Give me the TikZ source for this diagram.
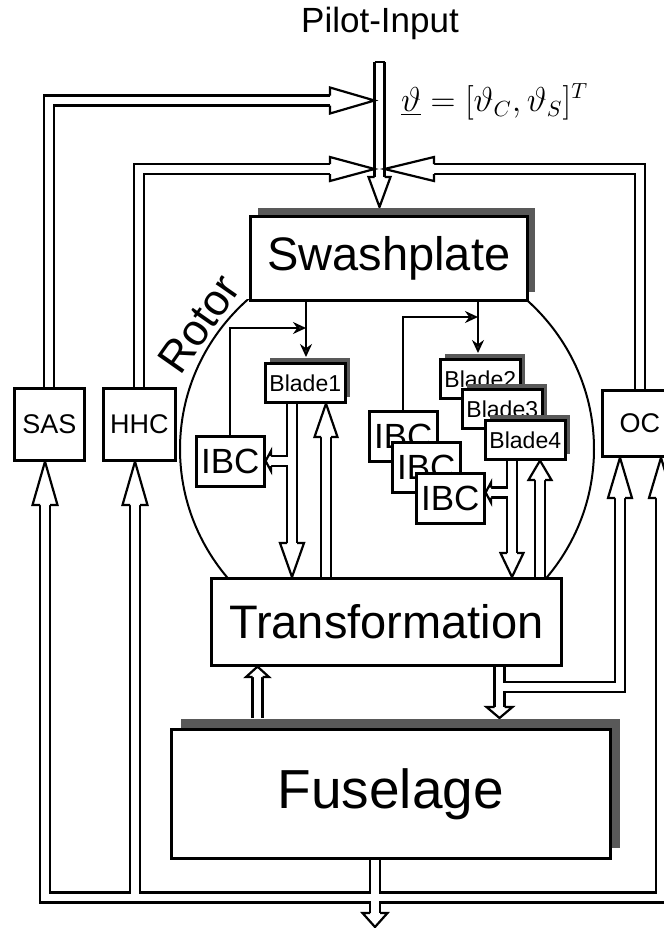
\documentclass[tikz,border=0pt]{standalone}
\usepackage{fontspec}
\setmainfont{Liberation Sans}
\usetikzlibrary{arrows.meta, calc, shadows, backgrounds}

\newcommand{\fsz}[1]{\fontsize{#1}{#1}\selectfont}

\tikzset{
  block/.style={rectangle, draw, line width=1.3pt, fill=white, inner sep=0pt, anchor=north west},
  shadebox/.style={block, drop shadow={shadow xshift=#1, shadow yshift=#1, fill=black!65, opacity=1}},
  ctrlbox/.style={block, minimum width=35pt, minimum height=36pt, font=\fsz{13.5}},
  bladebox/.style={shadebox=2.5pt, minimum width=40pt, minimum height=19.5pt, font=\fsz{11.5}},
  ibcbox/.style={block, minimum width=34pt, minimum height=25pt, font=\fsz{17.5}},
  pipe/.style={line width=1.1pt, double=white, double distance=3.9pt, line join=miter},
  headw/.store in=\headw, headw=6pt,
  head/.style={draw, line width=1.1pt, fill=white, line join=miter,
    to path={let \p1=(\tikztostart), \p2=(\tikztotarget) in
      ($(\p1)!2.5pt!90:(\p2)$) -- ($(\p1)!\headw!90:(\p2)$) -- (\p2)
      -- ($(\p1)!\headw!-90:(\p2)$) -- ($(\p1)!2.5pt!-90:(\p2)$)}},
  signal/.style={line width=1pt, -{Stealth[length=6.5pt, width=6pt, fill=black!40]}}
}

\begin{document}
\begin{tikzpicture}[x=0.5pt, y=-0.5pt]
  \useasboundingbox (0,0) rectangle (664,928);

  % main blocks
  \node[shadebox=4pt, minimum width=138.5pt, minimum height=42pt, font=\fsz{23.5}] (swash) at (249,215) {Swashplate};
  \node[block, minimum width=175pt, minimum height=43.5pt, font=\fsz{23.5}] (trafo) at (210,577) {Transformation};
  \node[shadebox=5pt, minimum width=219.5pt, minimum height=64.5pt, font=\fsz{27.5}] (fuse) at (170,728) {Fuselage};

  \node[ctrlbox] (sas) at (13,387) {SAS};
  \node[ctrlbox, minimum width=36pt] (hhc) at (102,387) {HHC};
  \node[ctrlbox, minimum width=37.5pt, minimum height=33pt] (oc) at (601,389) {OC};

  \node[bladebox] (blade1) at (264,362) {Blade1};
  \node[bladebox] (blade2) at (439,358) {Blade2};
  \node[bladebox] (blade3) at (461,388) {Blade3};
  \node[bladebox] (blade4) at (484,419) {Blade4};

  \node[ibcbox] (ibc1) at (195,435) {IBC};
  \node[ibcbox] (ibcA) at (368,410) {IBC};
  \node[ibcbox] (ibcB) at (391,441) {IBC};
  \node[ibcbox] (ibcC) at (415,472) {IBC};

  \node[font=\fsz{17.5}] (pilot) at (380,23) {Pilot-Input};
  \node[anchor=west, font=\fsz{16}] (theta) at (394,102) {$\underline{\vartheta}=[\vartheta_C,\vartheta_S]^T$};
  \node[rotate=55, font=\fsz{22}] (rotor) at (199,324) {Rotor};

  % end points of the double lines
  \coordinate (pin) at (379.5,62);
  \coordinate (pinb) at (379.5,177);
  \coordinate (pint) at (379.5,207);
  \coordinate (sasB) at (330,100.5);
  \coordinate (sasT) at (374.5,100.5);
  \coordinate (hhcB) at (330,169);
  \coordinate (hhcT) at (374.5,169);
  \coordinate (ocB) at (434,169);
  \coordinate (ocT) at (384.5,169);
  \coordinate (sasIn) at (45,505);
  \coordinate (hhcIn) at (135,505);
  \coordinate (ocIn1) at (620,498);
  \coordinate (ocIn2) at (661,498);
  \coordinate (bus) at (0,897.5);
  \coordinate (fout) at (375,913);
  \coordinate (foutT) at (375,927);
  \coordinate (tdown) at (499.5,707);
  \coordinate (tdownT) at (499.5,718);
  \coordinate (tbr) at (499.5,687);
  \coordinate (fupS) at (257.5,718);
  \coordinate (fup) at (257.5,677);
  \coordinate (b1d) at (292,543);
  \coordinate (b1br) at (292,461);
  \coordinate (ibc1b) at (271,461);
  \coordinate (b1u) at (326,437);
  \coordinate (b4d) at (512,553);
  \coordinate (b4br) at (512,492.5);
  \coordinate (ibcCb) at (491,492.5);
  \coordinate (b4u) at (540,480);
  \coordinate (s1) at (306,357);
  \coordinate (s1c) at (306,328);
  \coordinate (s2) at (478,353);
  \coordinate (s2c) at (478,317);

  \begin{scope}[on background layer]
    % rotor disc
    \begin{scope}
      \clip (0,299) rectangle (664,577);
      \draw[line width=1pt] (387,449) ellipse [x radius=207, y radius=202];
    \end{scope}

    % pilot input and feedback
    \draw[pipe] (pin) -- (pinb);
    \draw[line width=1.1pt] ($(pin)+(-5,0)$) -- ($(pin)+(5,0)$);
    \draw[head, headw=5.5pt] (pinb) to (pint);
    \draw[pipe] (sas.north) |- (sasB);
    \draw[head, headw=6.5pt] (sasB) to (sasT);
    \draw[pipe] (hhc.north) |- (hhcB);
    \draw[head] (hhcB) to (hhcT);
    \draw[pipe] (oc.north) |- (ocB);
    \draw[head] (ocB) to (ocT);

    % fuselage output bus
    \draw[pipe] (sasIn) |- (ocIn2 |- bus) -- (ocIn2)
                (hhcIn) -- (hhcIn |- bus)
                (fuse.south -| fout) -- (fout);
    \draw[head, headw=6.25pt] (sasIn) to (sas.south -| sasIn);
    \draw[head, headw=6.25pt] (hhcIn) to (hhc.south -| hhcIn);
    \draw[head] (ocIn2) to (oc.south -| ocIn2);
    \draw[head, headw=6.25pt] (fout) to (foutT);

    % transformation <-> fuselage
    \draw[pipe] (trafo.south -| tdown) -- (tdown) (tbr) -| (ocIn1);
    \draw[head, headw=6.5pt] (tdown) to (tdownT);
    \draw[head] (ocIn1) to (oc.south -| ocIn1);
    \draw[pipe] (fupS) -- (fup);
    \draw[head, headw=5.75pt] (fup) to (trafo.south -| fup);

    % blades <-> transformation
    \draw[pipe] (blade1.south -| b1d) -- (b1d) (b1br) -- (ibc1b);
    \draw[head] (b1d) to (trafo.north -| b1d);
    \draw[head, headw=5pt] (ibc1b) to (ibc1.east |- ibc1b);
    \draw[pipe] (trafo.north -| b1u) -- (b1u);
    \draw[head, headw=5.75pt] (b1u) to (blade1.south -| b1u);
    \draw[pipe] (blade4.south -| b4d) -- (b4d) (b4br) -- (ibcCb);
    \draw[head, headw=5.75pt] (b4d) to (trafo.north -| b4d);
    \draw[head, headw=5pt] (ibcCb) to (ibcC.east |- ibcCb);
    \draw[pipe] (trafo.north -| b4u) -- (b4u);
    \draw[head, headw=5.75pt] (b4u) to (blade4.south -| b4u);

    % swashplate and IBC inputs
    \draw[signal] (swash.south -| s1) -- (s1);
    \draw[signal] (ibc1.north) |- (s1c);
    \draw[signal] (swash.south -| s2) -- (s2);
    \draw[signal] (ibcA.north) |- (s2c);
  \end{scope}
\end{tikzpicture}
\end{document}
